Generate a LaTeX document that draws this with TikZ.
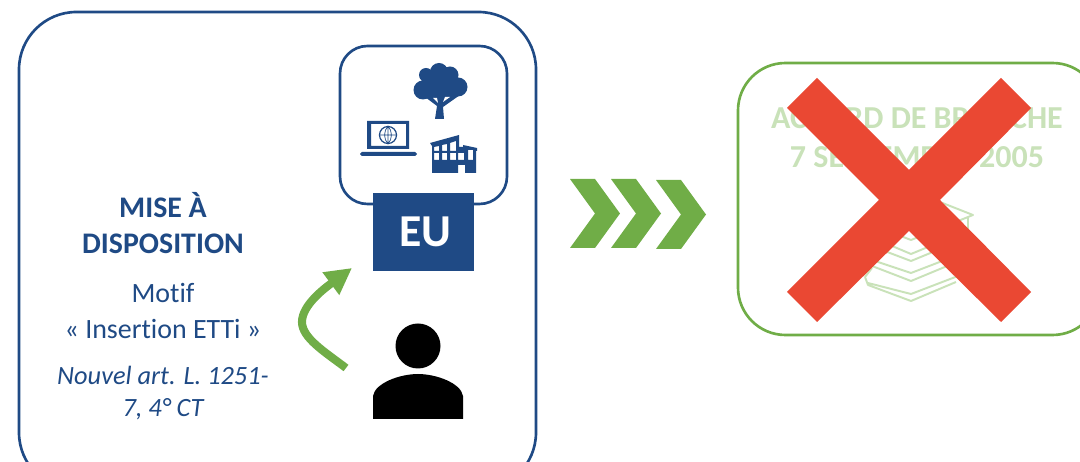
\documentclass[tikz,border=0pt]{standalone}
\usepackage{fontspec}
\setmainfont{Carlito}[Ligatures=NoCommon]
\usepackage{tikz}
\usetikzlibrary{positioning}
\usetikzlibrary{arrows.meta}
\definecolor{euBlue}{HTML}{1F4A85}
\definecolor{okGreen}{HTML}{70AD47}
\definecolor{paleGreen}{HTML}{C9E2B9}
\definecolor{crossRed}{HTML}{EA4833}
\tikzset{>=latex}
\tikzset{panel/.style={rectangle, draw, line width=1.5pt, fill=white}}
\tikzset{caption/.style={text=euBlue, align=center, inner sep=0pt}}
\tikzset{ghost/.style={text=paleGreen, font=\fontsize{18.2}{22}\selectfont\bfseries, inner sep=0pt}}
\tikzset{chevron/.style={fill=okGreen, draw=none}}
\tikzset{icon/.style={fill=euBlue, draw=none}}

\begin{document}
\begin{tikzpicture}[x=0.02cm, y=-0.02cm]
    \useasboundingbox (0,0) rectangle (1080,462);
    \clip (0,0) rectangle (1080,462);

    % left panel
    \draw [panel, draw=euBlue, rounded corners=1.15cm] (19,12) rectangle (536,490);
    \draw [panel, draw=euBlue, rounded corners=0.55cm] (340,46) rectangle (507,204);
    \node [fill=euBlue, text=white, minimum width=2.02cm, minimum height=1.56cm, inner sep=0pt,
        font=\fontsize{26}{30}\selectfont\bfseries] (eu) at (423.5,232) {\hspace{2pt}EU};

    % tree
    \fill [icon] (426,75) circle (7) (439,72) circle (9) (450,75) circle (8.5) (458,87) circle (9.5)
        (423,90) circle (9.5) (440,85) circle (15);
    \fill [icon] (425,97) -- (437,106) -- (435,119) -- (444,119) -- (443,107) -- (460,95) -- (445,88) -- (432,90) -- cycle;
    \fill [white] (433,98) -- (437,98) -- (438,103) -- cycle (445,97) -- (450,97) -- (443,102) -- cycle;

    % laptop
    \fill [icon, even odd rule] (367,121) rectangle (409,149) (371,124) rectangle (406,146);
    \fill [icon, rounded corners=1pt] (360,152) rectangle (417,156);
    \node [draw=euBlue, circle, minimum size=0.34cm, inner sep=0pt, line width=0.7pt] (globe) at (388,135) {};
    \draw [euBlue, line width=0.4pt] (globe.north) -- (globe.south) (globe.west) -- (globe.east)
        (globe.north) to [bend left=40] (globe.south) (globe.north) to [bend right=40] (globe.south);

    % factory
    \fill [icon, even odd rule] (430,143) -- (459,135) -- (459,147) -- (463,147) -- (463,145) -- (477,148) -- (477,151)
        -- (476,151) -- (476,173) -- (465,173) -- (465,165) -- (458,165) -- (458,173) -- (432,173) -- (432,146) -- cycle
        (434,147) -- (439,146) -- (439,151) -- (434,151) -- cycle
        (442,145) -- (447,144) -- (447,151) -- (442,151) -- cycle
        (450,143) -- (456,141) -- (456,151) -- (450,151) -- cycle
        (434,153) rectangle (439,160) (442,153) rectangle (447,160) (450,153) rectangle (456,160)
        (458,153) rectangle (464,160) (468,150) rectangle (473,160);

    % person
    \fill (418,346) circle (22.5);
    \fill (373,419) -- (373,396) .. controls (375,383) and (400,374) .. (418,374)
        .. controls (436,374) and (461,383) .. (463,396) -- (463,419) -- cycle;

    % curved arrow
    \coordinate (personSide) at (346,368);
    \coordinate (euSide) at (352,268);
    \draw [okGreen, line width=4.6pt, -{Triangle[length=15pt, width=15pt]}]
        (personSide) .. controls (325,352) and (302,338) .. (302,322) .. controls (302,305) and (325,288) .. (euSide);

    % left text
    \node [caption, font=\fontsize{17}{20.4}\selectfont\bfseries] (title) at (163,223) {MISE À\\DISPOSITION};
    \node [caption, font=\fontsize{15.9}{20}\selectfont] (motif) at (163,311) {Motif\\« Insertion ETTi »};
    \node [caption, font=\fontsize{15}{18}\selectfont\itshape] (ref) at (163,393) {Nouvel art. L. 1251-\\7, 4° CT};

    % chevrons
    \foreach \dx in {0,41} {
        \fill [chevron, shift={(\dx,0)}] (570,179) -- (595,179) -- (620,213.5) -- (595,248) -- (570,248) -- (595,213.5) -- cycle;
    }
    \fill [chevron] (656,180) -- (681,180) -- (706,214.5) -- (681,249) -- (656,249) -- (681,214.5) -- cycle;

    % right panel
    \draw [panel, draw=okGreen, rounded corners=0.95cm] (738,63) rectangle (1100,335);
    \node [ghost] (accord) at (917,118) {ACCORD DE BRANCHE};
    \node [ghost] (date) at (917,157) {7 SEPTEMBRE 2005};

    % book stack
    \draw [paleGreen, line width=1.1pt, line join=round] (940,202) -- (973,215) -- (911,240) -- (880,228)
        (968,218) -- (968,233)
        (885,243) -- (911,254) -- (940,242) (882,250) -- (911,261) -- (945,247)
        (875,261) -- (911,273) -- (950,258) (872,266) -- (911,281) -- (952,264)
        (868,283) -- (911,294) -- (958,276)
        (865,277) -- (868,285) -- (911,301) -- (956,282)
        (865,277) -- (872,268);

    % red cross
    \fill [crossRed] (817,78) -- (909,170) -- (1001,78) -- (1031,108) -- (940,200) -- (1031,292)
        -- (1001,322) -- (909,231) -- (817,322) -- (787,292) -- (879,200) -- (787,108) -- cycle;
\end{tikzpicture}
\end{document}
